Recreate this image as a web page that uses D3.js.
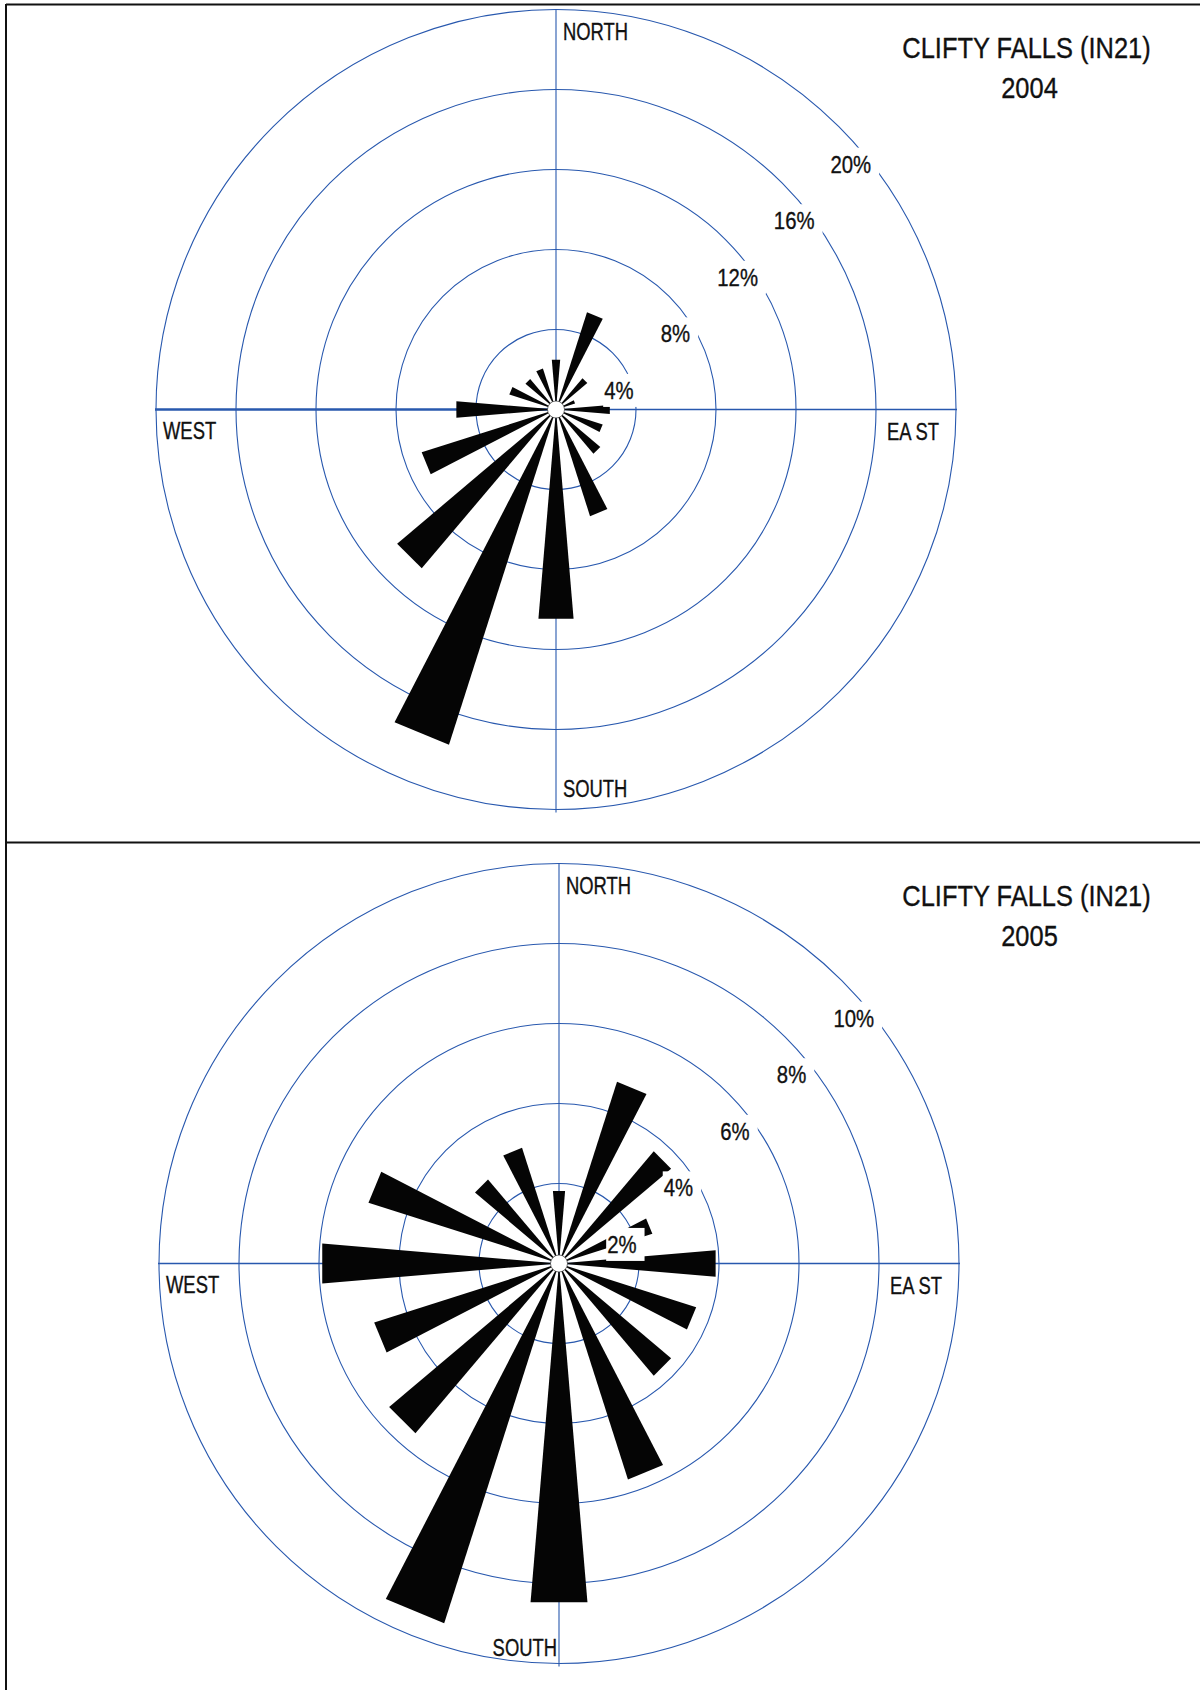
<!DOCTYPE html>
<html>
<head>
<meta charset="utf-8">
<script src="https://cdn.jsdelivr.net/npm/d3@7"></script>
<style>
  body { margin: 0; background: #fff; }
  svg { display: block; }
  text { font-family: "Liberation Sans", Arial, sans-serif; fill: #111; stroke: #111; stroke-width: 0.35px; }
</style>
</head>
<body>
<svg width="1200" height="1690"></svg>
<script>
// 16 compass points, clockwise from north
const directions = ['N', 'NNE', 'NE', 'ENE', 'E', 'ESE', 'SE', 'SSE', 'S', 'SSW', 'SW', 'WSW', 'W', 'WNW', 'NW', 'NNW']

// percent of hours the wind came from each direction
const freq2004 = [2.5, 5.1, 2.05, 1.0, 2.7, 2.45, 2.9, 5.6, 10.5, 17.6, 10.4, 7.05, 5.0, 2.45, 2.0, 2.15]
const freq2005 = [1.82, 4.77, 3.67, 2.45, 3.93, 3.6, 3.67, 5.67, 8.5, 9.44, 5.56, 4.85, 5.94, 5.0, 2.75, 3.04]

const rings2004 = [4, 8, 12, 16, 20]
const rings2005 = [2, 4, 6, 8, 10]

const stationName = 'CLIFTY FALLS (IN21)'
const years = ['2004', '2005']

const blue = '#2858ae'
let svg = d3.select('svg')

// narrow type: Liberation Sans squeezed horizontally
function narrowText (parent, x, y, str, size, squeeze, anchor) {
  let g = parent.append('g')
    .attr('transform', 'translate(' + x + ',' + y + ') scale(' + squeeze + ',1)')
  g.append('text')
    .style('font-size', size + 'px')
    .attr('text-anchor', anchor || 'start')
    .text(str)
  return g
}

// frame of the table the charts sit in
svg.append('rect').attr('width', 1200).attr('height', 1690).attr('fill', '#fff')
svg.append('line').attr('x1', 6).attr('x2', 1200).attr('y1', 4.5).attr('y2', 4.5)
  .attr('stroke', '#111').attr('stroke-width', 2)
svg.append('line').attr('x1', 6).attr('x2', 6).attr('y1', 4).attr('y2', 1690)
  .attr('stroke', '#111').attr('stroke-width', 2)
svg.append('line').attr('x1', 6).attr('x2', 1200).attr('y1', 842.5).attr('y2', 842.5)
  .attr('stroke', '#111').attr('stroke-width', 2)

function drawRose (cx, cy, values, rings, year, opts) {
  let g = svg.append('g').attr('transform', 'translate(' + cx + ',' + cy + ')')
  let R = 400
  let r = d3.scaleLinear().domain([0, d3.max(rings)]).range([0, R])
  let angle = d3.scaleLinear().domain([0, directions.length]).range([0, 2 * Math.PI])
  let half = 4.8 * Math.PI / 180

  // rings
  g.append('g').selectAll('circle')
    .data(rings)
    .enter().append('circle')
    .attr('r', function (d) { return r(d) })
    .attr('fill', 'none')
    .attr('stroke', blue)
    .attr('stroke-width', 1.1)

  // axes
  g.append('line').attr('x1', 0).attr('x2', 0).attr('y1', -R).attr('y2', R + 3)
    .attr('stroke', blue).attr('stroke-width', 1.1)
  g.append('line').attr('x1', 0).attr('x2', R + 1).attr('y1', 0).attr('y2', 0)
    .attr('stroke', blue).attr('stroke-width', 1.3)
  g.append('line').attr('x1', 0).attr('x2', -R - 1).attr('y1', 0).attr('y2', 0)
    .attr('stroke', blue).attr('stroke-width', opts.westWidth)

  // wedges
  let wedge = function (v, i) {
    let a = angle(i)
    return 'M0,0L' + d3.pointRadial(a - half, r(v)).join(',') +
      'L' + d3.pointRadial(a + half, r(v)).join(',') + 'Z'
  }
  g.append('g').selectAll('path')
    .data(values)
    .enter().append('path')
    .attr('d', wedge)
    .attr('fill', '#050505')

  g.append('circle').attr('r', 8.5).attr('fill', '#fff')
    .attr('stroke', '#222').attr('stroke-width', 0.6)

  // ring labels along the 45 degree line, on white boxes
  rings.forEach(function (d) {
    let p = d3.pointRadial(Math.PI / 4, r(d))
    let lx = p[0] - 8.4
    let ly = p[1] + 46
    let box = g.append('rect').attr('fill', '#fff')
    let t = narrowText(g, lx, ly, d + '%', 24.5, 0.83)
    let w = t.select('text').node().getComputedTextLength() * 0.83
    box.attr('x', lx - 1).attr('y', ly - 25).attr('width', w + 9).attr('height', 33)
  })

  // compass labels
  narrowText(g, 7, -370, 'NORTH', 23.3, 0.79)
  narrowText(g, -393, 29, 'WEST', 23.3, 0.79)
  let east = narrowText(g, 331, 30, 'EA', 23.3, 0.79)
  east.select('text').append('tspan').attr('dx', 5).text('ST')
  if (opts.southLeft) narrowText(g, -2, opts.southY, 'SOUTH', 23.3, 0.79, 'end')
  else narrowText(g, 7, opts.southY, 'SOUTH', 23.3, 0.79)

  // title
  narrowText(svg, 1026.5, opts.titleY, stationName, 30.3, 0.84, 'middle')
  narrowText(svg, 1029.5, opts.titleY + 40, year, 30.3, 0.84, 'middle')
}

drawRose(556, 409.5, freq2004, rings2004, years[0], { westWidth: 2.4, southY: 387.5, southLeft: false, titleY: 57.7 })
drawRose(559, 1263.5, freq2005, rings2005, years[1], { westWidth: 1.3, southY: 392, southLeft: true, titleY: 905.5 })
</script>
</body>
</html>
